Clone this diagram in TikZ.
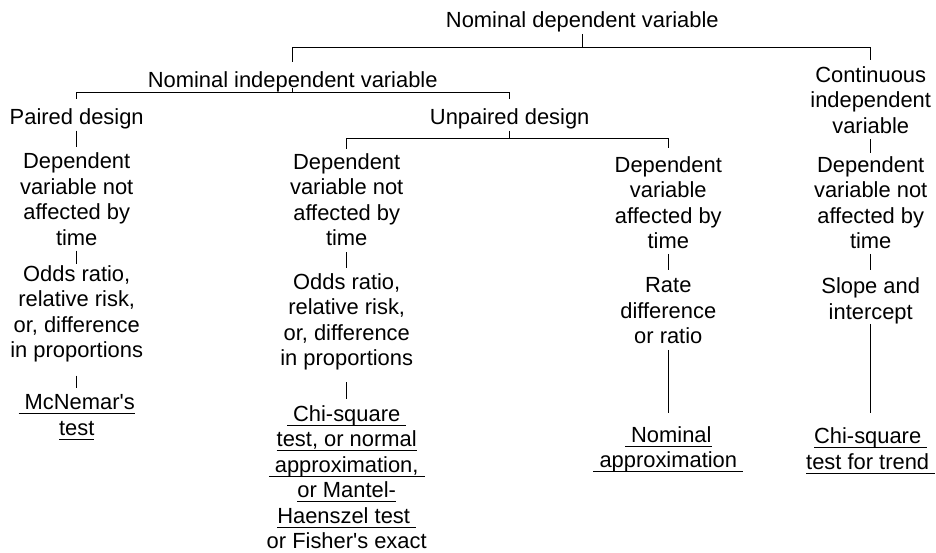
\documentclass[tikz,border=0pt]{standalone}
\usepackage{fontspec}
\setmainfont{Liberation Sans}
\usepackage{tikz}

% text with a rule just under the baseline
\newcommand\ulx[1]{\setbox0=\hbox{#1}\rlap{\rule[-4.6pt]{\wd0}{1pt}}\box0}

\tikzset{
  txt/.style={align=center, anchor=north, inner sep=0pt,
    font=\fontsize{21.9}{25.5}\selectfont},
  link/.style={line width=1pt}
}

\begin{document}
\begin{tikzpicture}[x=1pt, y=-1pt]
\useasboundingbox (0,0) rectangle (936,552);

% top of the tree
\node[txt] (top) at (582.3,11) {Nominal dependent variable};
\node[txt] (nind) at (292.7,71.6) {Nominal independent variable};
\node[txt] (cont) at (870.7,66) {Continuous\\independent\\variable};
\node[txt] (paired) at (76.7,108.3) {Paired design};
\node[txt] (unpaired) at (509.7,108.3) {Unpaired design};

% time dependence
\node[txt] (d1) at (76.7,152.6) {Dependent\\variable not\\affected by\\time};
\node[txt] (d2) at (346.7,153.3) {Dependent\\variable not\\affected by\\time};
\node[txt] (d3) at (668.3,156) {Dependent\\variable\\affected by\\time};
\node[txt] (d4) at (870.7,156) {Dependent\\variable not\\affected by\\time};

% what gets estimated
\node[txt] (o1) at (76.7,265.3) {Odds ratio,\\relative risk,\\or, difference\\in proportions};
\node[txt] (o2) at (346.7,273.3) {Odds ratio,\\relative risk,\\or, difference\\in proportions};
\node[txt] (rate) at (668.3,277.6) {Rate\\difference\\or ratio};
\node[txt] (slope) at (870.7,277.6) {Slope and\\intercept};

% tests
\node[txt] (mcn) at (76.7,394.3) {\ulx{\ McNemar\textquotesingle s}\\\ulx{test}};
\node[txt] (chi) at (346.7,405) {\ulx{\ Chi-square\ }\\\ulx{test, or normal}\\
  \ulx{\ approximation,\ }\\\ulx{or Mantel-}\\\ulx{Haenszel test\ }\\or Fisher\textquotesingle s exact};
\node[txt] (napp) at (668.3,426) {\ulx{\ Nominal}\\\ulx{\ approximation\ }};
\node[txt] (trend) at (870.7,427.6) {\ulx{Chi-square\ }\\\ulx{test for trend\ }};

% connectors
\draw[link, shorten <=2pt] (top.south) -- ++(0,16) coordinate (j1);
\draw[link, shorten >=10pt] (j1) -| (nind.north);
\draw[link, shorten >=6pt] (j1) -| (cont.north);

\draw[link] (nind.base) -- ++(0,5) coordinate (j2);
\draw[link, shorten >=9pt] (j2) -| (paired.north);
\draw[link, shorten >=9pt] (j2) -| (unpaired.north);

\draw[link, shorten <=1.5pt] (unpaired.south) -- ++(0,9.7) coordinate (j3);
\draw[link, shorten >=4pt] (j3) -| (d2.north);
\draw[link, shorten >=8pt] (j3) -| (d3.north);

\draw[link, shorten <=1.5pt, shorten >=6pt] (paired) -- (d1);
\draw[link, shorten <=6pt, shorten >=3pt] (cont.south) -- (d4.north);

\draw[link, shorten <=5pt, shorten >=1pt] (d1.south) -- (o1.north);
\draw[link, shorten <=6pt, shorten >=5pt] (d2.south) -- (o2.north);
\draw[link, shorten <=5pt, shorten >=7.6pt] (d3.south) -- (rate.north);
\draw[link, shorten <=5pt, shorten >=7.6pt] (d4.south) -- (slope.north);

\draw[link, shorten <=13pt, shorten >=6pt] (o1.south) -- (mcn.north);
\draw[link, shorten <=11.6pt, shorten >=6pt] (o2.south) -- (chi.north);
\draw[link, shorten <=5.7pt, shorten >=12.7pt] (rate.south) -- (napp.north);
\draw[link, shorten >=14.3pt] (slope.south) -- (trend.north);
\end{tikzpicture}
\end{document}
